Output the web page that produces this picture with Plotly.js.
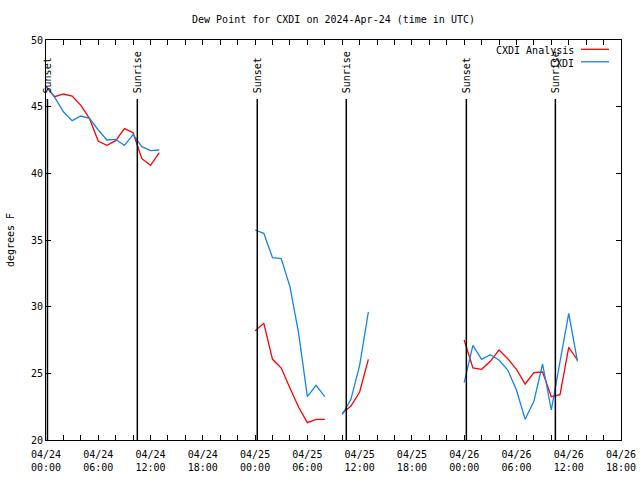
<!DOCTYPE html>
<html>
<head>
<meta charset="utf-8">
<script src="https://cdn.plot.ly/plotly-3.0.1.min.js"></script>
<style>html,body{margin:0;padding:0;background:#fff;}#chart{width:640px;height:480px;}</style>
</head>
<body>
<div id="chart"></div>
<script>
// Hourly times (UTC) from 2024-04-24 00:00 to 2024-04-26 13:00
var times = [
 '2024-04-24 00:00','2024-04-24 01:00','2024-04-24 02:00','2024-04-24 03:00','2024-04-24 04:00','2024-04-24 05:00',
 '2024-04-24 06:00','2024-04-24 07:00','2024-04-24 08:00','2024-04-24 09:00','2024-04-24 10:00','2024-04-24 11:00',
 '2024-04-24 12:00','2024-04-24 13:00','2024-04-24 14:00','2024-04-24 15:00','2024-04-24 16:00','2024-04-24 17:00',
 '2024-04-24 18:00','2024-04-24 19:00','2024-04-24 20:00','2024-04-24 21:00','2024-04-24 22:00','2024-04-24 23:00',
 '2024-04-25 00:00','2024-04-25 01:00','2024-04-25 02:00','2024-04-25 03:00','2024-04-25 04:00','2024-04-25 05:00',
 '2024-04-25 06:00','2024-04-25 07:00','2024-04-25 08:00','2024-04-25 09:00','2024-04-25 10:00','2024-04-25 11:00',
 '2024-04-25 12:00','2024-04-25 13:00','2024-04-25 14:00','2024-04-25 15:00','2024-04-25 16:00','2024-04-25 17:00',
 '2024-04-25 18:00','2024-04-25 19:00','2024-04-25 20:00','2024-04-25 21:00','2024-04-25 22:00','2024-04-25 23:00',
 '2024-04-26 00:00','2024-04-26 01:00','2024-04-26 02:00','2024-04-26 03:00','2024-04-26 04:00','2024-04-26 05:00',
 '2024-04-26 06:00','2024-04-26 07:00','2024-04-26 08:00','2024-04-26 09:00','2024-04-26 10:00','2024-04-26 11:00',
 '2024-04-26 12:00','2024-04-26 13:00'
];

// CXDI Analysis (red)
var analysis = [
 46.5, 45.75, 45.95, 45.8, 45.1, 44.1, 42.4, 42.1, 42.45, 43.35, 43.05, 41.1, 40.6, 41.55,
 null, null, null, null, null, null, null, null, null, null,
 28.2, 28.75, 26.05, 25.4, 23.9, 22.45, 21.3, 21.55, 21.55,
 null,
 22.0, 22.55, 23.6, 26.05,
 null, null, null, null, null, null, null, null, null, null,
 27.5, 25.4, 25.3, 25.9, 26.75, 26.1, 25.3, 24.2, 25.05, 25.1, 23.25, 23.4, 26.95, 26.0
];

// CXDI observations (blue)
var observed = [
 46.55, 45.7, 44.62, 43.95, 44.3, 44.13, 43.25, 42.5, 42.55, 42.1, 42.9, 42.0, 41.7, 41.75,
 null, null, null, null, null, null, null, null, null, null,
 35.75, 35.5, 33.67, 33.6, 31.5, 28.0, 23.25, 24.1, 23.25,
 null,
 21.9, 23.05, 25.6, 29.6,
 null, null, null, null, null, null, null, null, null, null,
 24.3, 27.1, 26.05, 26.4, 26.0, 25.25, 23.75, 21.55, 22.9, 25.7, 22.25, 25.9, 29.5, 25.9
];

// Sun events
var sunTimes = ['2024-04-24 00:10','2024-04-24 10:29','2024-04-25 00:15','2024-04-25 10:28','2024-04-26 00:15','2024-04-26 10:28'];
var sunLabels = ['Sunset','Sunrise','Sunset','Sunrise','Sunset','Sunrise'];

var seriesNames = ['CXDI Analysis','CXDI'];
var seriesColors = ['#ff0000','#1483f0'];

var FONT = 'DejaVu Sans Mono, Liberation Mono, monospace';

var traces = [
  {x: times, y: analysis, name: seriesNames[0], type: 'scatter', mode: 'lines',
   line: {color: seriesColors[0], width: 1.3}, connectgaps: false},
  {x: times, y: observed, name: seriesNames[1], type: 'scatter', mode: 'lines',
   line: {color: seriesColors[1], width: 1.3}, connectgaps: false}
];

var shapes = [];
var annotations = [];
sunTimes.forEach(function(t, i) {
  shapes.push({type: 'line', xref: 'x', yref: 'paper', x0: t, x1: t, y0: 0, y1: 0.8525,
               line: {color: '#000', width: 1.5}});
  annotations.push({xref: 'x', yref: 'paper', x: t, y: 0.865, text: sunLabels[i], textangle: -90,
                    showarrow: false, xanchor: 'center', yanchor: 'bottom',
                    font: {family: FONT, size: 10, color: '#000'}, borderpad: 0});
});

// custom legend (text to the left of the sample line)
var legRowY = [0.97375, 0.9425];
seriesNames.forEach(function(n, i) {
  annotations.push({xref: 'paper', yref: 'paper', x: 0.92, y: legRowY[i], text: n, showarrow: false,
                    xanchor: 'right', yanchor: 'middle', font: {family: FONT, size: 10, color: '#000'}, borderpad: 0});
  shapes.push({type: 'line', xref: 'paper', yref: 'paper', x0: 0.9304, x1: 0.9791,
               y0: legRowY[i] + 0.003, y1: legRowY[i] + 0.003, line: {color: seriesColors[i], width: 1.3}});
});

var layout = {
  width: 640, height: 480,
  margin: {l: 46, r: 19, t: 40, b: 40},
  paper_bgcolor: '#fff', plot_bgcolor: '#fff',
  showlegend: false,
  font: {family: FONT, size: 10, color: '#000'},
  title: {text: 'Dew Point for CXDI on 2024-Apr-24 (time in UTC)', font: {family: FONT, size: 10, color: '#000'},
          xref: 'paper', x: 0.5, xanchor: 'center', yref: 'container', y: 0.96, yanchor: 'middle'},
  xaxis: {
    type: 'date', range: ['2024-04-24 00:00', '2024-04-26 18:00'],
    tick0: '2024-04-24 00:00', dtick: 21600000, tickformat: '%m/%d<br>%H:%M',
    ticks: 'inside', ticklen: 5, tickcolor: '#000', tickwidth: 1, ticklabelstandoff: 5,
    minor: {dtick: 7200000, ticks: 'inside', ticklen: 5, tickcolor: '#000', showgrid: false},
    showline: true, linecolor: '#000', linewidth: 1, mirror: 'ticks',
    showgrid: false, zeroline: false, fixedrange: true,
    tickfont: {family: FONT, size: 10, color: '#000'}
  },
  yaxis: {
    range: [20, 50], tick0: 20, dtick: 5,
    ticks: 'inside', ticklen: 5, tickcolor: '#000', tickwidth: 1,
    showline: true, linecolor: '#000', linewidth: 1, mirror: 'ticks',
    showgrid: false, zeroline: false, fixedrange: true,
    tickfont: {family: FONT, size: 10, color: '#000'},
    title: {text: 'degrees F', font: {family: FONT, size: 10, color: '#000'}, standoff: 14}
  },
  shapes: shapes,
  annotations: annotations
};

Plotly.newPlot('chart', traces, layout, {staticPlot: true, displayModeBar: false});
</script>
</body>
</html>
